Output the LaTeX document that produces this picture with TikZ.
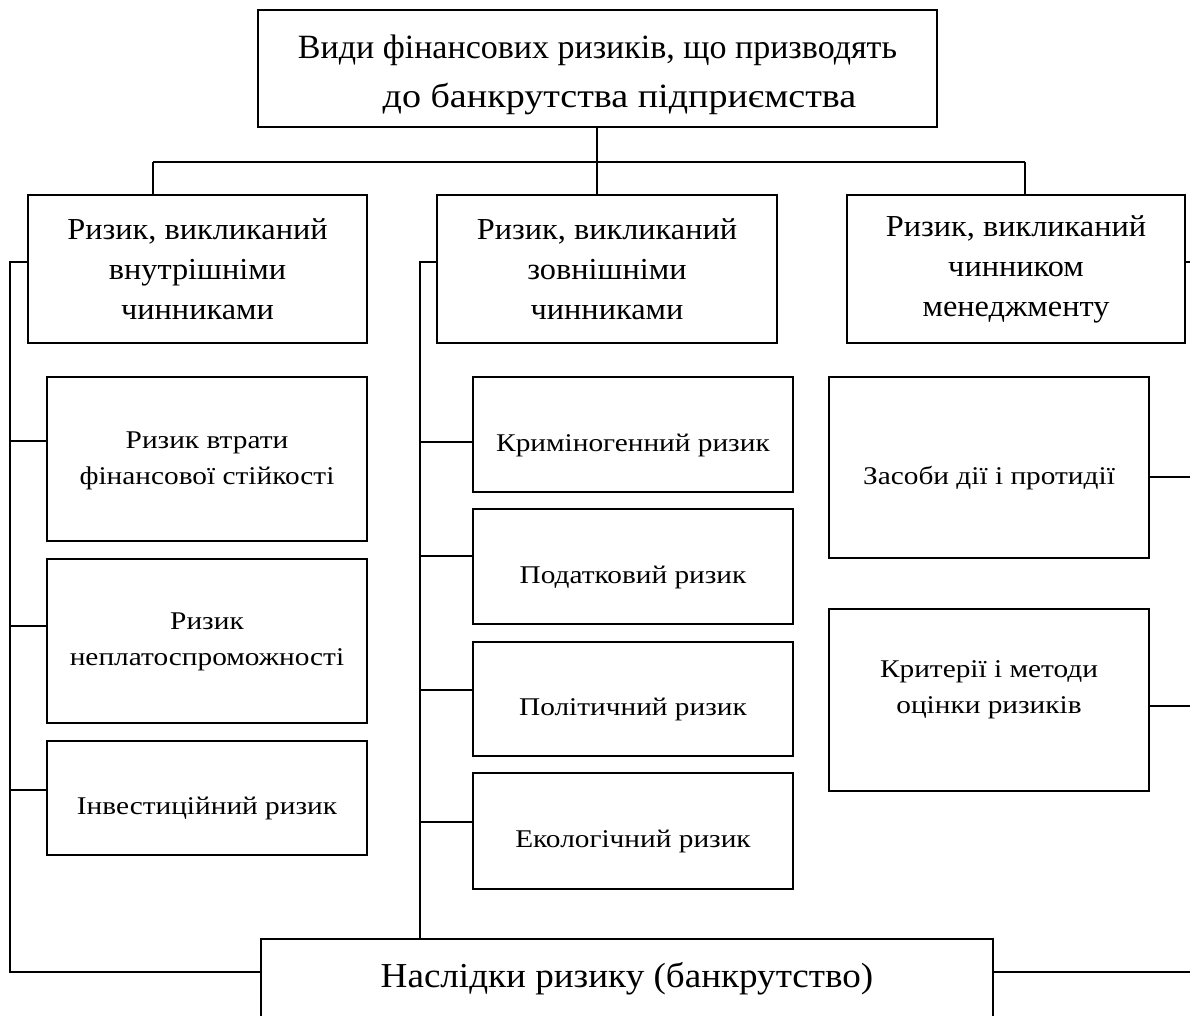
\documentclass[tikz,border=0pt]{standalone}
\usepackage{fontspec}
\setmainfont{Liberation Serif}
\newfontfamily\lvtwofont[FakeStretch=1.06]{Liberation Serif}
\newfontfamily\lvthreefont[FakeStretch=1.15]{Liberation Serif}
\newfontfamily\bottomfont[FakeStretch=1.06]{Liberation Serif}
\newfontfamily\toplinefont[FakeStretch=1.12]{Liberation Serif}
\begin{document}
\begin{tikzpicture}[x=1pt,y=-1pt,
  box/.style={draw, line width=1.6pt, rectangle, inner sep=0pt, align=center},
  plain/.style={inner sep=0pt, align=center},
  topfont/.style={font=\fontsize{34}{49}\selectfont},
  lvtwo/.style={box, font=\lvtwofont\fontsize{30.5}{40}\selectfont},
  lvthreetext/.style={font=\lvthreefont\fontsize{25.5}{36}\selectfont},
  lvthree/.style={box, lvthreetext},
  oneline/.style={text height=33pt, text depth=0pt},
  conn/.style={line width=1.3pt}]
\clip (0,0) rectangle (1190,1016);
\fill[white] (0,0) rectangle (1190,1016);

\node[box, minimum width=679pt, minimum height=117pt] (t) at (597.5,68.5) {};
\node[plain, topfont] (tt) at (597.5,75) {Види фінансових ризиків, що призводять\\\hspace*{44pt}{\toplinefont до банкрутства підприємства}};

\node[lvtwo, minimum width=339pt, minimum height=148pt] (a) at (197.5,269) {Ризик, викликаний\\внутрішніми\\чинниками};
\node[lvtwo, minimum width=340pt, minimum height=148pt] (b) at (607,269) {Ризик, викликаний\\зовнішніми\\чинниками};
\node[lvtwo, minimum width=338pt, minimum height=148pt] (c) at (1016,269) {Ризик, викликаний\\чинником\\менеджменту};

\node[box, minimum width=320pt, minimum height=164pt] (a1) at (207,459) {};
\node[plain, lvthreetext] (a1t) at (207,461) {Ризик втрати\\фінансової стійкості};
\node[box, minimum width=320pt, minimum height=164pt] (a2) at (207,641) {};
\node[plain, lvthreetext] (a2t) at (207,642) {Ризик\\неплатоспроможності};
\node[lvthree, oneline, minimum width=320pt, minimum height=114pt] (a3) at (207,798) {Інвестиційний ризик};

\node[lvthree, oneline, minimum width=320pt, minimum height=115pt] (b1) at (633,434.5) {Криміногенний ризик};
\node[lvthree, oneline, minimum width=320pt, minimum height=115pt] (b2) at (633,566.5) {Податковий ризик};
\node[lvthree, oneline, minimum width=320pt, minimum height=114pt] (b3) at (633,699) {Політичний ризик};
\node[lvthree, oneline, minimum width=320pt, minimum height=116pt] (b4) at (633,831) {Екологічний ризик};

\node[box, minimum width=320pt, minimum height=181pt] (c1) at (989,467.5) {};
\node[plain, lvthreetext] (c1t) at (989,478) {Засоби дії і протидії};
\node[box, minimum width=320pt, minimum height=182pt] (c2) at (989,700) {};
\node[plain, lvthreetext] (c2t) at (989,690) {Критерії і методи\\оцінки ризиків};

\node[box, font=\bottomfont\fontsize{35}{50}\selectfont, minimum width=732pt, minimum height=86pt, text height=25pt, text depth=15pt] (r) at (627,982) {Наслідки ризику (банкрутство)};

% top bus
\coordinate (bus) at (597,162);
\coordinate (busl) at (153,162);
\coordinate (busr) at (1025,162);
\draw[conn] (t.south -| bus) -- (bus);
\draw[conn] (busl) -- (busr);
\draw[conn] (busl) -- (busl |- a.north);
\draw[conn] (bus) -- (bus |- b.north);
\draw[conn] (busr) -- (busr |- c.north);

% left bus
\coordinate (la) at (10,262);
\coordinate (lb) at (10,972);
\draw[conn] (a.west |- la) -- (la) -- (lb) -- (r.west |- lb);
\draw[conn] (a1.west |- 0,441) -- (10,441);
\draw[conn] (a2.west |- 0,626) -- (10,626);
\draw[conn] (a3.west |- 0,790) -- (10,790);

% middle bus
\coordinate (ma) at (420,262);
\draw[conn] (b.west |- ma) -- (ma) -- (ma |- r.north);
\draw[conn] (b1.west |- 0,442) -- (420,442);
\draw[conn] (b2.west |- 0,556) -- (420,556);
\draw[conn] (b3.west |- 0,690) -- (420,690);
\draw[conn] (b4.west |- 0,822) -- (420,822);

% right side
\coordinate (ra) at (1192,262);
\draw[conn] (c.east |- ra) -- (ra);
\draw[conn] (c1.east |- 0,477) -- (1192,477);
\draw[conn] (c2.east |- 0,706) -- (1192,706);
\draw[conn] (r.east |- lb) -- (1192,972);
\end{tikzpicture}
\end{document}
